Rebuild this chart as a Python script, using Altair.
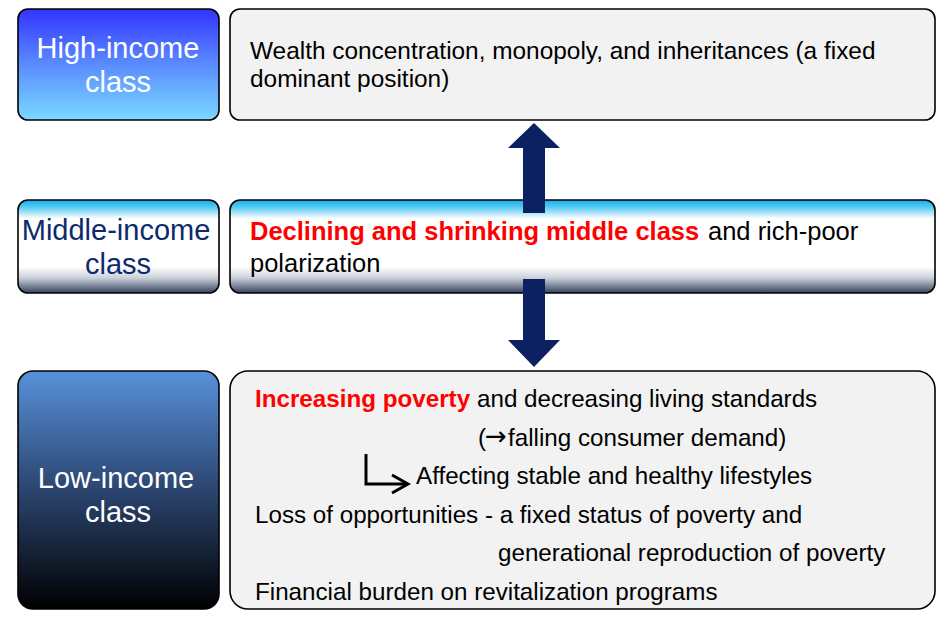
import altair as alt
import pandas as pd

# ---------------- content ----------------
class_labels = [["High-income", "class"], ["Middle-income", "class"], ["Low-income", "class"]]
high_lines = ["Wealth concentration, monopoly, and inheritances (a fixed", "dominant position)"]
mid_red = "Declining and shrinking middle class"
mid_black = "and rich-poor"
mid_line2 = "polarization"
low_red = "Increasing poverty"
low_black = "and decreasing living standards"
demand_parts = ["(", "\u2192", "falling consumer demand)"]
low_lines = [
    "Affecting stable and healthy lifestyles",
    "Loss of opportunities - a fixed status of poverty and",
    "generational reproduction of poverty",
    "Financial burden on revitalization programs",
]

# ---------------- layout (image pixel coordinates) ----------------
W, H = 928, 603
xs = alt.Scale(domain=[8, 8 + W], nice=False, zero=False)
ys = alt.Scale(domain=[8, 8 + H], nice=False, zero=False, reverse=True)
FONT = "Liberation Sans, DejaVu Sans"


def X(f="x"):
    return alt.X(f"{f}:Q", scale=xs, axis=None)


def Y(f="y"):
    return alt.Y(f"{f}:Q", scale=ys, axis=None)


def grad(stops):
    return alt.LinearGradient(
        gradient="linear",
        stops=[alt.GradientStop(offset=o, color=c) for o, c in stops],
        x1=0, x2=0, y1=0, y2=1,
    )


def box(x, x2, y, y2, fill, radius):
    df = pd.DataFrame({"x": [x], "x2": [x2], "y": [y], "y2": [y2]})
    return alt.Chart(df).mark_rect(
        fill=fill, stroke="black", strokeWidth=1.6, cornerRadius=radius
    ).encode(x=X(), x2=alt.X2("x2"), y=Y(), y2=alt.Y2("y2"))


high_grad = grad([(0, "#3333ff"), (0.5, "#5a8cff"), (1, "#7ad8ff")])
mid_grad = grad([(0, "#16aef0"), (0.07, "#50c6f2"), (0.2, "#ffffff"), (0.72, "#ffffff"),
                 (0.84, "#c9cfd9"), (1, "#33435e")])
low_grad = grad([(0, "#5891da"), (0.5, "#2b4570"), (1, "#000000")])

boxes = [
    box(18, 219, 9, 120, high_grad, 10),
    box(230, 935, 9, 120, "#f2f2f2", 10),
    box(18, 219, 200, 293, mid_grad, 10),
    box(230, 935, 200, 293, mid_grad, 10),
    box(18, 219, 371, 609, low_grad, 15),
    box(230, 935, 371, 609, "#f2f2f2", 18),
]

# big double arrow
arrow_col = "#0b2162"
shafts = pd.DataFrame({"x": [523, 523], "x2": [545, 545], "y": [146, 279], "y2": [213, 342]})
shaft_layer = alt.Chart(shafts).mark_rect(color=arrow_col).encode(
    x=X(), x2=alt.X2("x2"), y=Y(), y2=alt.Y2("y2"))
heads = pd.DataFrame({
    "a": ["up"] * 3 + ["down"] * 3,
    "x": [508, 534, 560, 508, 534, 560],
    "y": [148, 123, 148, 340, 367, 340],
    "y2": [148, 148, 148, 340, 340, 340],
})
head_layer = alt.Chart(heads).mark_area(color=arrow_col, opacity=1).encode(
    x=X(), y=Y(), y2=alt.Y2("y2"), detail="a:N")

# small L-arrow
lpath = pd.DataFrame({
    "p": ["L", "L", "L", "H", "H", "H"],
    "o": [0, 1, 2, 0, 1, 2],
    "x": [366, 366, 407, 392, 408, 392],
    "y": [454, 484, 484, 475, 484, 493],
})
l_layer = alt.Chart(lpath).mark_line(color="black", strokeWidth=3, strokeJoin="miter").encode(
    x=X(), y=Y(), detail="p:N", order="o:Q")


def text(rows, size, color, bold=False, align="left", font=FONT):
    df = pd.DataFrame(rows, columns=["x", "y", "t"])
    return alt.Chart(df).mark_text(
        align=align, baseline="alphabetic", font=font, fontSize=size, color=color,
        fontWeight="bold" if bold else "normal",
    ).encode(x=X(), y=Y(), text="t:N")


label_layers = [
    text([(118, 58, class_labels[0][0]), (118, 92, class_labels[0][1])], 29, "white", align="center"),
    text([(116, 240, class_labels[1][0]), (118, 274, class_labels[1][1])], 29, "#0c2a6c", align="center"),
    text([(116, 488, class_labels[2][0]), (118, 522, class_labels[2][1])], 29, "white", align="center"),
]

LS = 24.2
body_layers = [
    text([(250, 59, high_lines[0]), (250, 87, high_lines[1])], 24.4, "black"),
    text([(250, 240, mid_red)], 25.5, "#ff0000", bold=True),
    text([(708, 240, mid_black), (250, 272, mid_line2)], 25.5, "black"),
    text([(255, 407, low_red)], LS, "#ff0000", bold=True),
    text([(477, 407, low_black), (478, 445.6, demand_parts[0]), (508, 445.6, demand_parts[2]),
          (416, 484, low_lines[0]), (255, 523, low_lines[1]), (498, 561, low_lines[2]),
          (255, 600, low_lines[3])], LS, "black"),
    text([(485, 445, demand_parts[1])], 26, "black", font="DejaVu Sans"),
]

chart = alt.layer(
    *boxes, shaft_layer, head_layer, l_layer, *label_layers, *body_layers
).properties(width=W, height=H, padding=0).configure_view(stroke=None)

chart.save("out.html", embed_options={"renderer": "svg", "actions": False})
